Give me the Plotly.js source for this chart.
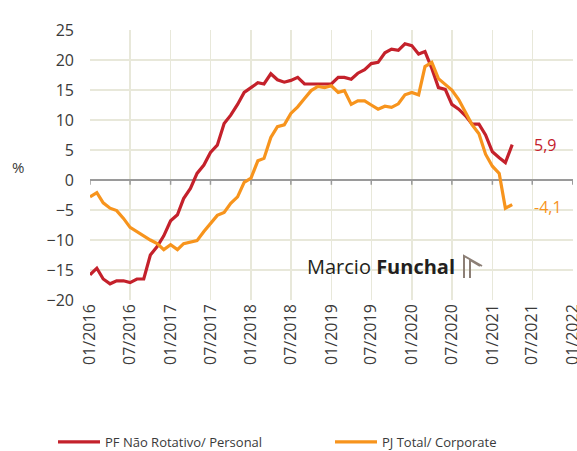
<!DOCTYPE html>
<html>
<head>
<meta charset="utf-8">
<script src="https://cdn.plot.ly/plotly-3.0.1.min.js"></script>
<style>
html,body{margin:0;padding:0;background:#fff;}
#chart{width:577px;height:451px;}
</style>
</head>
<body>
<div id="chart"></div>
<script>
// ---- Data (monthly, Jan 2016 – Apr 2021) ----
const startMonth = "2016-01";
const pfNaoRotativo = [
  -15.8, -14.7, -16.5, -17.3, -16.8, -16.8, -17.1, -16.5, -16.5, -12.5, -11.1, -9.3,
  -6.8, -5.8, -3.1, -1.4, 1.1, 2.5, 4.6, 5.8, 9.4, 10.8, 12.6, 14.6,
  15.4, 16.2, 16.0, 17.7, 16.7, 16.3, 16.6, 17.1, 16.0, 16.0, 16.0, 16.0,
  16.0, 17.1, 17.1, 16.8, 17.8, 18.4, 19.4, 19.6, 21.2, 21.8, 21.6, 22.7,
  22.4, 21.0, 21.4, 18.6, 15.4, 15.1, 12.6, 11.8, 10.7, 9.3, 9.3, 7.5,
  4.7, 3.7, 2.9, 5.9
];
const pjTotal = [
  -2.8, -2.1, -3.8, -4.7, -5.1, -6.4, -7.9, -8.6, -9.4, -10.0, -10.6, -11.6,
  -10.8, -11.6, -10.6, -10.3, -10.1, -8.6, -7.2, -5.9, -5.4, -3.9, -2.8, -0.4,
  0.3, 3.2, 3.6, 7.1, 8.9, 9.2, 11.1, 12.2, 13.6, 14.9, 15.6, 15.4,
  15.7, 14.6, 14.9, 12.6, 13.2, 13.2, 12.5, 11.8, 12.3, 12.1, 12.7, 14.2,
  14.6, 14.2, 18.9, 19.6, 16.9, 16.0, 15.0, 13.4, 11.2, 9.2, 7.7, 4.3,
  2.3, 1.1, -4.7, -4.1
];
const seriesNames = ["PF Não Rotativo/ Personal", "PJ Total/ Corporate"];
const seriesColors = ["#c4212b", "#f7941d"];
const lastLabels = ["5,9", "-4,1"];
const tickDates = ["2016-01-01","2016-07-01","2017-01-01","2017-07-01","2018-01-01","2018-07-01",
  "2019-01-01","2019-07-01","2020-01-01","2020-07-01","2021-01-01","2021-07-01","2022-01-01"];

// month axis positions
function monthDates(start, n) {
  const [y0, m0] = start.split("-").map(Number);
  const out = [];
  for (let i = 0; i < n; i++) {
    const t = (m0 - 1) + i;
    const y = y0 + Math.floor(t / 12), m = (t % 12) + 1;
    out.push(y + "-" + String(m).padStart(2, "0") + "-01");
  }
  return out;
}
const dates = monthDates(startMonth, pfNaoRotativo.length);

const FONT = "Open Sans, sans-serif";
const TXT = "#3a3a3a";
const GRID = "#e8e8da";

const traces = [pfNaoRotativo, pjTotal].map((vals, i) => ({
  type: "scatter", mode: "lines", x: dates, y: vals, name: seriesNames[i],
  legend: i === 0 ? "legend" : "legend2",
  line: {color: seriesColors[i], width: 3.2}, hoverinfo: "skip"
}));

// plot-area px helpers for decorative elements
const W = 577, H = 451;
const L = 90, R = 573, T = 30, B = 300;
const px = X => (X - L) / (R - L);
const py = Y => (B - Y) / (B - T);

const shapes = tickDates.map(d => ({
  type: "line", xref: "x", yref: "y", x0: d, x1: d, y0: 0, y1: -0.8,
  line: {color: "#9a9a9a", width: 1.5}, layer: "above"
}));
// small logo mark next to watermark
shapes.push({type: "path", xref: "paper", yref: "paper",
  path: `M${px(464)},${py(278)} L${px(464)},${py(256)} L${px(482)},${py(266)} M${px(470)},${py(278)} L${px(470)},${py(260)} L${px(480)},${py(266)}`,
  line: {color: "#8c7f76", width: 2}});

const annotations = [
  {xref: "paper", yref: "paper", x: px(18), y: py(167), text: "%", showarrow: false,
   font: {family: FONT, size: 15, color: TXT}, xanchor: "center", yanchor: "middle"},
  {xref: "paper", yref: "paper", x: px(305), y: py(266), text: "Marcio <b>Funchal</b>", showarrow: false,
   font: {family: FONT, size: 20, color: "#231f20"}, xanchor: "left", yanchor: "middle"}
];
[pfNaoRotativo, pjTotal].forEach((vals, i) => {
  annotations.push({
    xref: "x", yref: "y", x: dates[vals.length - 1], y: vals[vals.length - 1],
    text: lastLabels[i], showarrow: false, xanchor: "left", yanchor: "middle",
    xshift: 20, yshift: i === 1 ? -2 : 0,
    font: {family: FONT, size: 16, color: seriesColors[i]}
  });
});

const legendBase = {orientation: "h", xref: "container", yref: "container",
  xanchor: "left", yanchor: "middle", y: (H - 442) / H, itemwidth: 42,
  font: {family: FONT, size: 13, color: TXT}, bgcolor: "rgba(0,0,0,0)", borderwidth: 0};

const layout = {
  width: W, height: H,
  margin: {l: L, r: W - R, t: T, b: H - B},
  paper_bgcolor: "#fff", plot_bgcolor: "#fff",
  font: {family: FONT, color: TXT},
  showlegend: true,
  legend: Object.assign({}, legendBase, {x: 53 / W}),
  legend2: Object.assign({}, legendBase, {x: 330 / W}),
  xaxis: {type: "date", range: ["2016-01-01", "2022-01-02"], tickvals: tickDates,
    tickformat: "%m/%Y", tickangle: -90, showgrid: true, gridcolor: GRID, gridwidth: 1.5,
    showline: false, zeroline: false, ticks: "", automargin: false, ticklabeloverflow: "allow",
    tickfont: {family: FONT, size: 16, color: TXT}, fixedrange: true},
  yaxis: {range: [-20, 25], dtick: 5, tick0: 0, showgrid: true, gridcolor: GRID, gridwidth: 1.5,
    zeroline: true, zerolinecolor: "#9a9a9a", zerolinewidth: 1.5, showline: false,
    ticks: "", ticklabelstandoff: 15, automargin: false,
    tickfont: {family: FONT, size: 16, color: TXT}, fixedrange: true},
  shapes: shapes,
  annotations: annotations
};

Plotly.newPlot("chart", traces, layout, {displayModeBar: false, staticPlot: true});
</script>
</body>
</html>
